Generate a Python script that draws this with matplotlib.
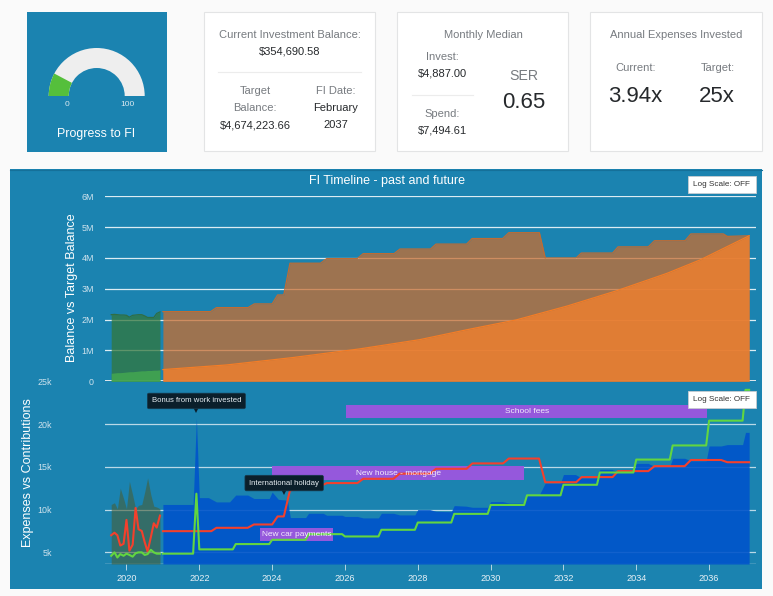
import matplotlib
matplotlib.use('Agg')
import matplotlib.pyplot as plt
from matplotlib.patches import Rectangle, Wedge

plt.rcParams['font.family'] = ['Liberation Sans', 'DejaVu Sans']

W, H = 773, 596
PANEL = '#1b83b0'
GREY = '#777b80'
DARK = '#26292c'

# past months
past_years = [2019.58, 2019.67, 2019.75, 2019.83, 2019.92, 2020.0, 2020.08, 2020.17, 2020.25,
              2020.33, 2020.42, 2020.5, 2020.58, 2020.67, 2020.75, 2020.83, 2020.92]
past_balance = [2.16, 2.17, 2.16, 2.15, 2.15, 2.14, 2.08, 2.14, 2.15, 2.16, 2.16, 2.12, 2.07, 2.07, 2.07, 2.2, 2.25]
past_target = [.26, .27, .28, .28, .29, .30, .31, .31, .32, .33, .34, .34, .35, .35, .36, .36, .37]
past_expenses = [7.0, 7.3, 7.0, 5.8, 6.0, 8.8, 5.2, 5.9, 10.2, 7.7, 7.5, 6.2, 5.1, 6.8, 8.4, 7.9, 9.3]
past_contrib = [4.6, 5.0, 4.4, 4.8, 4.6, 4.85, 4.7, 4.5, 4.9, 5.0, 5.0, 4.7, 4.8, 5.3, 5.0, 4.85, 4.85]
past_outgoing = [10.6, 10.8, 10.1, 12.5, 11.3, 10.1, 13.3, 11.7, 10.1, 10.5, 10.6, 12.05, 13.7, 11.7, 10.4, 10.3, 10.1]

# future balance steps
bal_years = [2021.0, 2022.31, 2022.47, 2023.34, 2023.51, 2024.0, 2024.15, 2024.32, 2024.49, 2025.33, 2025.5,
             2026.34, 2026.5, 2027.35, 2027.51, 2028.35, 2028.5, 2029.34, 2029.49, 2030.33, 2030.5, 2031.34,
             2031.5, 2032.35, 2032.49, 2033.35, 2033.5, 2034.33, 2034.5, 2035.34, 2035.5, 2036.39, 2036.5, 2037.1]
bal_values = [2.26, 2.26, 2.39, 2.39, 2.51, 2.51, 2.8, 2.8, 3.83, 3.83, 3.98,
              3.98, 4.14, 4.14, 4.29, 4.29, 4.45, 4.45, 4.63, 4.63, 4.82, 4.82,
              4.0, 4.0, 4.16, 4.16, 4.36, 4.36, 4.56, 4.56, 4.78, 4.78, 4.7, 4.72]
target_years = [2021.0, 2022.75, 2024.57, 2026.4, 2028.05, 2029.34, 2030.7, 2032.1, 2033.47, 2034.84, 2035.76, 2037.1]
target_values = [.38, .53, .77, 1.05, 1.35, 1.67, 1.99, 2.44, 2.94, 3.5, 3.94, 4.72]

# future contributions (blue area)
blue_years = [2021.0, 2021.83, 2021.92, 2022.0, 2022.25, 2022.47, 2022.83, 2023.0, 2023.33, 2023.5, 2023.92,
              2024.0, 2024.17, 2024.42, 2024.5, 2024.92, 2025.0, 2025.4, 2025.5, 2025.92, 2026.0, 2026.34,
              2026.5, 2026.92, 2027.0, 2027.33, 2027.5, 2027.92, 2028.0, 2028.33, 2028.5, 2028.92, 2029.0,
              2029.33, 2029.5, 2029.92, 2030.0, 2030.33, 2030.5, 2030.92, 2031.0, 2031.33, 2031.5, 2031.92,
              2032.0, 2032.33, 2032.5, 2032.92, 2033.0, 2033.33, 2033.5, 2033.92, 2034.0, 2034.33, 2034.5,
              2034.92, 2035.0, 2035.33, 2035.5, 2035.92, 2036.0, 2036.33, 2036.5, 2036.92, 2037.0, 2037.1]
blue_values = [10.6, 10.6, 20.7, 11.4, 11.4, 10.9, 10.9, 11.7, 11.7, 11.3, 11.3,
               12.05, 11.2, 11.1, 9.07, 9.07, 9.57, 9.57, 9.34, 9.34, 9.2, 9.2,
               9.03, 9.03, 9.57, 9.57, 9.38, 9.38, 10.0, 10.0, 9.8, 9.75, 10.47,
               10.4, 10.27, 10.27, 10.93, 10.93, 10.77, 10.77, 11.67, 11.67, 13.1, 13.1,
               14.1, 14.1, 13.7, 13.7, 14.7, 14.7, 14.4, 14.4, 15.4, 15.4, 15.04,
               15.04, 16.0, 16.0, 15.7, 15.7, 17.44, 17.44, 17.6, 17.6, 19.03, 19.03]

red_years = [2021.0, 2022.33, 2022.47, 2023.33, 2023.5, 2024.0, 2024.15, 2024.32, 2024.49, 2025.3, 2025.5,
             2026.34, 2026.5, 2027.33, 2027.5, 2028.34, 2028.5, 2029.34, 2029.5, 2030.34, 2030.5, 2031.33,
             2031.5, 2032.35, 2032.5, 2033.35, 2033.5, 2034.33, 2034.5, 2035.33, 2035.5, 2036.33, 2036.5, 2037.1]
red_values = [7.48, 7.48, 7.87, 7.87, 8.26, 8.26, 9.2, 9.2, 12.25, 12.7, 13.1,
              13.1, 13.6, 13.6, 14.2, 14.2, 14.77, 14.77, 15.4, 15.4, 15.97, 15.97,
              13.2, 13.2, 13.8, 13.8, 14.5, 14.5, 15.08, 15.08, 15.8, 15.8, 15.54, 15.54]

green_years = [2021.0, 2021.83, 2021.92, 2022.0, 2022.92, 2023.0, 2023.92, 2024.0, 2024.92, 2025.0, 2025.92, 2026.0,
               2026.92, 2027.0, 2027.92, 2028.0, 2028.92, 2029.0, 2029.92, 2030.0, 2030.92, 2031.0, 2031.92, 2032.0,
               2032.92, 2033.0, 2033.92, 2034.0, 2034.92, 2035.0, 2035.92, 2036.0, 2036.92, 2037.0, 2037.1]
green_values = [4.85, 4.85, 11.86, 5.35, 5.35, 5.97, 5.97, 6.47, 6.47, 7.13, 7.13, 6.86,
                6.86, 7.64, 7.64, 8.49, 8.49, 9.5, 9.5, 10.54, 10.54, 11.67, 11.67, 12.9,
                12.9, 14.34, 14.34, 15.85, 15.85, 17.5, 17.5, 20.4, 20.4, 24.0, 24.0]

event_names = ['School fees', 'New house - mortgage', 'New car payments']
event_start = [2026.03, 2024.0, 2023.67]
event_end = [2035.95, 2030.92, 2025.67]
event_level = [21.45, 14.27, 7.09]

gauge_value = 15.5
balance_ticks = [0, 1, 2, 3, 4, 5, 6]
balance_labels = ['0', '1M', '2M', '3M', '4M', '5M', '6M']
expense_ticks = [5, 10, 15, 20, 25]
expense_labels = ['5k', '10k', '15k', '20k', '25k']
year_ticks = list(range(2020, 2037, 2))


def pixel_axes(left, top, right, bottom, **kw):
    return fig.add_axes([left / W, 1 - bottom / H, (right - left) / W, (bottom - top) / H], **kw)


def label(x, y, s, color=DARK, size=8.0, **kw):
    back.text(x, y, s, color=color, fontsize=size, ha='center', va='center', **kw)


fig = plt.figure(figsize=(W / 100, H / 100), dpi=100, facecolor='#fafafa')

# page layer, coordinates are pixels
back = fig.add_axes([0, 0, 1, 1], zorder=0)
back.set_xlim(0, W)
back.set_ylim(H, 0)
back.axis('off')

back.add_patch(Rectangle((26.5, 12), 140.5, 140, fc=PANEL, ec='none'))
for left, right in [(204, 375), (397, 568), (590, 762)]:
    back.add_patch(Rectangle((left, 12), right - left, 139, fc='white', ec='#e3e4e5', lw=0.8))
back.add_patch(Rectangle((10, 169), 752, 420, fc=PANEL, ec='none'))
back.plot([10, 762], [169.5, 169.5], color='#157099', lw=0.8)
back.plot([218, 361], [71.5, 71.5], color='#ececec', lw=0.8)
back.plot([412, 473], [94.5, 94.5], color='#ececec', lw=0.8)

# gauge (y axis of this layer points down, so angles are flipped)
back.add_patch(Wedge((96.7, 96), 48, 180, 360, width=20, fc='#eeeeee', ec='none'))
back.add_patch(Wedge((96.7, 96), 48, 180, 180 + gauge_value * 1.8, width=20, fc='#55bf3b', ec='none'))
label(66.7, 104, '0', '#dbe9f0', 6.0)
label(127, 104, '100', '#dbe9f0', 6.0)
label(96.5, 134.5, 'Progress to FI', 'white', 8.9)

label(290, 34.5, 'Current Investment Balance:', GREY)
label(290, 51, '$354,690.58')
label(255, 91, 'Target', GREY)
label(255, 108, 'Balance:', GREY)
label(255, 125, '$4,674,223.66')
label(336, 91, 'FI Date:', GREY)
label(336, 108, 'February')
label(336, 125, '2037')

label(483.5, 34.5, 'Monthly Median', GREY)
label(442, 57, 'Invest:', GREY)
label(442, 73.5, '$4,887.00')
label(442, 114, 'Spend:', GREY)
label(442, 130.5, '$7,494.61')
label(524, 75.5, 'SER', GREY, 10.2)
label(524, 102, '0.65', DARK, 16)

label(676.5, 34.5, 'Annual Expenses Invested', GREY)
label(635.5, 68, 'Current:', GREY)
label(717.5, 68, 'Target:', GREY)
label(635.5, 96, '3.94x', DARK, 16)
label(717, 96, '25x', DARK, 16)

label(387, 181, 'FI Timeline - past and future', 'white', 9.0)
label(72, 288, 'Balance vs Target Balance', 'white', 9.0, rotation=90)
label(27.5, 473, 'Expenses vs Contributions', 'white', 9.0, rotation=90)

# balance chart
top = pixel_axes(105, 196.3, 755.7, 381.3, zorder=1)
top.patch.set_alpha(0)
top.set_xlim(2019.41, 2037.28)
top.set_ylim(0, 6)
top.set_yticks(balance_ticks, balance_labels)
top.set_xticks([])
top.grid(axis='y', color='white', lw=0.9, alpha=0.85)
top.set_axisbelow(True)
top.tick_params(axis='y', length=0, pad=8, labelsize=6.4, labelcolor='#cfe3ee')
for s in top.spines.values():
    s.set_visible(False)
top.axhline(0, color='#dfe7ec', lw=1.4, zorder=1)

top.fill_between(past_years, past_balance, color='#33773c', alpha=0.75, lw=0)
top.plot(past_years, past_balance, color='#2f6e44', lw=0.9)
top.fill_between(past_years, past_target, color='#45aa4f', alpha=0.8, lw=0)
top.fill_between(bal_years, bal_values, color='#ca6e30', alpha=0.75, lw=0)
top.plot(bal_years, bal_values, color='#bf6c34', lw=0.9)
top.fill_between(target_years, target_values, color='#ec7f30', alpha=0.85, lw=0)
top.plot(target_years, target_values, color='#f47d26', lw=0.9)

# expenses chart
bot = pixel_axes(105, 381.3, 755.7, 564, zorder=2)
bot.patch.set_alpha(0)
bot.set_xlim(2019.41, 2037.28)
bot.set_ylim(3.64, 24.93)
bot.set_yticks(expense_ticks, expense_labels)
bot.set_xticks(year_ticks, [str(y) for y in year_ticks])
bot.grid(axis='y', color='white', lw=0.9, alpha=0.7)
bot.set_axisbelow(True)
bot.get_ygridlines()[-1].set_visible(False)
bot.tick_params(axis='y', length=0, pad=38, labelsize=6.4, labelcolor='#cfe3ee')
bot.tick_params(axis='x', length=4, width=0.6, color='#cfe3ee', pad=3, labelsize=6.6, labelcolor='#e8f1f6')
for s in bot.spines.values():
    s.set_visible(False)
bot.axhline(3.64, color='#cfdde6', lw=1.0, zorder=1)

bot.fill_between(past_years, past_outgoing, 3.64, color='#465f39', alpha=0.6, lw=0)
bot.fill_between(blue_years, blue_values, 3.64, color='#0054cb', alpha=0.9, lw=0)

bot.barh(event_level, [e - s for s, e in zip(event_start, event_end)], left=event_start, height=1.57,
         color='#9558dc', zorder=3)
for name, s, e, lev in zip(event_names, event_start, event_end, event_level):
    bot.text((s + e) / 2, lev, name, color='#f3ecfb', fontsize=6.0, ha='center', va='center', zorder=5)

bot.plot(past_years, past_expenses, color='#f4402c', lw=1.5, zorder=4)
bot.plot(past_years, past_contrib, color='#62d640', lw=1.5, zorder=4)
bot.plot(red_years, red_values, color='#f4402c', lw=1.5, zorder=4)
bot.plot(green_years, green_values, color='#62d640', lw=1.5, zorder=4)

tips = [('Bonus from work invested', 2021.92, 21.3), ('International holiday', 2024.33, 11.7)]
for text, year, level in tips:
    bot.plot([year], [level + 0.35], marker='v', ms=5, color='#0b1f2b', mew=0, zorder=7, clip_on=False)
    bot.annotate(text, (year, level), xytext=(0, 12), textcoords='offset pixels', color='#e6edf2',
                 fontsize=5.6, ha='center', va='center', zorder=8, annotation_clip=False,
                 bbox=dict(boxstyle='round,pad=0.55,rounding_size=0.2', fc='#0b1f2b', ec='#17394d', lw=0.5))

# log scale buttons
front = fig.add_axes([0, 0, 1, 1], zorder=5)
front.set_xlim(0, W)
front.set_ylim(H, 0)
front.axis('off')
for y0, y1 in [(176, 192.7), (391, 407.7)]:
    front.add_patch(Rectangle((688, y0), 67.7, y1 - y0, fc='white', ec='#c8ccd0', lw=0.6))
    front.text(721.8, (y0 + y1) / 2, 'Log Scale: OFF', color='#333333', fontsize=5.9, ha='center', va='center')

fig.savefig('out.png', dpi=100, facecolor=fig.get_facecolor())
